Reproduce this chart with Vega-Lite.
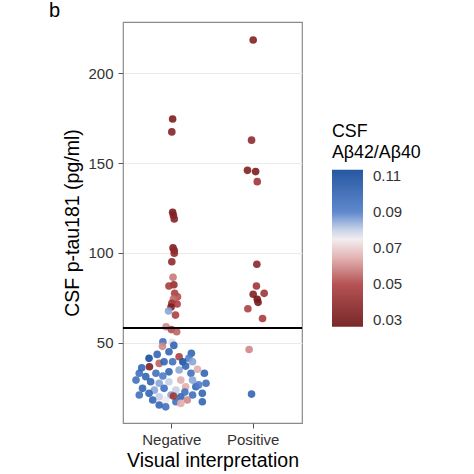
{
  "$schema": "https://vega.github.io/schema/vega-lite/v6.json",
  "autosize": {"type": "none"},
  "width": 179,
  "height": 401,
  "padding": {"left": 123, "top": 22, "right": 172, "bottom": 51},
  "background": "white",
  "title": {"text": "b", "anchor": "start", "frame": "group", "dx": -74, "offset": 1, "fontSize": 20, "fontWeight": "normal", "font": "Liberation Sans", "color": "#000"},
  "config": {
    "font": "Liberation Sans",
    "view": {"stroke": "#8a8a8a", "strokeWidth": 1.2},
    "axis": {"domain": false, "tickColor": "#555", "tickSize": 5, "labelColor": "#333", "labelFontSize": 15, "titleFontSize": 19.5, "titleFontWeight": "normal", "titleColor": "#000", "gridColor": "#ebebeb", "gridWidth": 1.1}
  },
  "data": {"values": [
    {"group": "Positive", "ptau": 218.6, "ratio": 0.035, "jit": 0.0},
    {"group": "Positive", "ptau": 162.8, "ratio": 0.04, "jit": -0.02},
    {"group": "Positive", "ptau": 146.0, "ratio": 0.035, "jit": -0.07},
    {"group": "Positive", "ptau": 145.3, "ratio": 0.033, "jit": 0.03},
    {"group": "Positive", "ptau": 139.7, "ratio": 0.045, "jit": 0.05},
    {"group": "Positive", "ptau": 93.7, "ratio": 0.038, "jit": 0.045},
    {"group": "Positive", "ptau": 81.6, "ratio": 0.045, "jit": 0.04},
    {"group": "Positive", "ptau": 77.5, "ratio": 0.045, "jit": 0.135},
    {"group": "Positive", "ptau": 77.0, "ratio": 0.035, "jit": 0.0},
    {"group": "Positive", "ptau": 74.2, "ratio": 0.03, "jit": 0.05},
    {"group": "Positive", "ptau": 72.5, "ratio": 0.032, "jit": 0.06},
    {"group": "Positive", "ptau": 68.9, "ratio": 0.05, "jit": -0.065},
    {"group": "Positive", "ptau": 63.5, "ratio": 0.048, "jit": 0.115},
    {"group": "Positive", "ptau": 46.2, "ratio": 0.06, "jit": -0.05},
    {"group": "Positive", "ptau": 21.4, "ratio": 0.1, "jit": -0.02},
    {"group": "Negative", "ptau": 174.6, "ratio": 0.033, "jit": 0.01},
    {"group": "Negative", "ptau": 167.4, "ratio": 0.036, "jit": 0.0},
    {"group": "Negative", "ptau": 122.6, "ratio": 0.032, "jit": 0.01},
    {"group": "Negative", "ptau": 120.8, "ratio": 0.035, "jit": 0.02},
    {"group": "Negative", "ptau": 118.9, "ratio": 0.037, "jit": 0.03},
    {"group": "Negative", "ptau": 102.8, "ratio": 0.034, "jit": 0.015},
    {"group": "Negative", "ptau": 101.3, "ratio": 0.038, "jit": 0.03},
    {"group": "Negative", "ptau": 99.8, "ratio": 0.04, "jit": 0.03},
    {"group": "Negative", "ptau": 95.1, "ratio": 0.04, "jit": 0.0},
    {"group": "Negative", "ptau": 86.4, "ratio": 0.058, "jit": 0.015},
    {"group": "Negative", "ptau": 82.3, "ratio": 0.042, "jit": 0.025},
    {"group": "Negative", "ptau": 81.6, "ratio": 0.048, "jit": -0.035},
    {"group": "Negative", "ptau": 77.5, "ratio": 0.05, "jit": 0.035},
    {"group": "Negative", "ptau": 75.6, "ratio": 0.052, "jit": 0.07},
    {"group": "Negative", "ptau": 74.3, "ratio": 0.056, "jit": 0.02},
    {"group": "Negative", "ptau": 72.0, "ratio": 0.045, "jit": 0.0},
    {"group": "Negative", "ptau": 71.6, "ratio": 0.05, "jit": 0.065},
    {"group": "Negative", "ptau": 69.9, "ratio": 0.033, "jit": -0.01},
    {"group": "Negative", "ptau": 67.7, "ratio": 0.085, "jit": -0.04},
    {"group": "Negative", "ptau": 65.4, "ratio": 0.05, "jit": 0.045},
    {"group": "Negative", "ptau": 58.9, "ratio": 0.06, "jit": -0.07},
    {"group": "Negative", "ptau": 57.3, "ratio": 0.052, "jit": -0.005},
    {"group": "Negative", "ptau": 56.1, "ratio": 0.055, "jit": 0.06},
    {"group": "Negative", "ptau": 50.5, "ratio": 0.095, "jit": -0.11},
    {"group": "Negative", "ptau": 50.2, "ratio": 0.078, "jit": 0.005},
    {"group": "Negative", "ptau": 48.0, "ratio": 0.06, "jit": -0.115},
    {"group": "Negative", "ptau": 48.5, "ratio": 0.1, "jit": 0.025},
    {"group": "Negative", "ptau": 45.0, "ratio": 0.1, "jit": -0.035},
    {"group": "Negative", "ptau": 42.2, "ratio": 0.05, "jit": 0.09},
    {"group": "Negative", "ptau": 44.1, "ratio": 0.1, "jit": 0.24},
    {"group": "Negative", "ptau": 41.3, "ratio": 0.09, "jit": 0.21},
    {"group": "Negative", "ptau": 41.3, "ratio": 0.11, "jit": -0.28},
    {"group": "Negative", "ptau": 36.6, "ratio": 0.034, "jit": -0.275},
    {"group": "Negative", "ptau": 38.5, "ratio": 0.055, "jit": -0.155},
    {"group": "Negative", "ptau": 39.4, "ratio": 0.1, "jit": -0.095},
    {"group": "Negative", "ptau": 39.4, "ratio": 0.095, "jit": 0.01},
    {"group": "Negative", "ptau": 39.4, "ratio": 0.108, "jit": 0.135},
    {"group": "Negative", "ptau": 39.4, "ratio": 0.085, "jit": 0.255},
    {"group": "Negative", "ptau": 35.2, "ratio": 0.065, "jit": 0.315},
    {"group": "Negative", "ptau": 33.0, "ratio": 0.095, "jit": -0.4},
    {"group": "Negative", "ptau": 31.1, "ratio": 0.1, "jit": -0.32},
    {"group": "Negative", "ptau": 33.0, "ratio": 0.095, "jit": -0.195},
    {"group": "Negative", "ptau": 33.8, "ratio": 0.1, "jit": -0.035},
    {"group": "Negative", "ptau": 34.8, "ratio": 0.085, "jit": 0.09},
    {"group": "Negative", "ptau": 33.0, "ratio": 0.095, "jit": 0.235},
    {"group": "Negative", "ptau": 33.0, "ratio": 0.1, "jit": 0.4},
    {"group": "Negative", "ptau": 29.2, "ratio": 0.095, "jit": -0.44},
    {"group": "Negative", "ptau": 28.3, "ratio": 0.1, "jit": -0.26},
    {"group": "Negative", "ptau": 27.4, "ratio": 0.085, "jit": -0.155},
    {"group": "Negative", "ptau": 28.3, "ratio": 0.08, "jit": -0.035},
    {"group": "Negative", "ptau": 29.2, "ratio": 0.065, "jit": 0.11},
    {"group": "Negative", "ptau": 29.2, "ratio": 0.085, "jit": 0.255},
    {"group": "Negative", "ptau": 27.4, "ratio": 0.095, "jit": 0.42},
    {"group": "Negative", "ptau": 24.6, "ratio": 0.1, "jit": -0.36},
    {"group": "Negative", "ptau": 23.6, "ratio": 0.085, "jit": -0.215},
    {"group": "Negative", "ptau": 24.6, "ratio": 0.095, "jit": -0.095},
    {"group": "Negative", "ptau": 23.6, "ratio": 0.08, "jit": 0.05},
    {"group": "Negative", "ptau": 25.5, "ratio": 0.065, "jit": 0.17},
    {"group": "Negative", "ptau": 25.5, "ratio": 0.1, "jit": 0.295},
    {"group": "Negative", "ptau": 20.9, "ratio": 0.095, "jit": -0.4},
    {"group": "Negative", "ptau": 21.8, "ratio": 0.1, "jit": -0.28},
    {"group": "Negative", "ptau": 19.9, "ratio": 0.08, "jit": -0.155},
    {"group": "Negative", "ptau": 20.9, "ratio": 0.085, "jit": -0.01},
    {"group": "Negative", "ptau": 19.9, "ratio": 0.1, "jit": 0.11},
    {"group": "Negative", "ptau": 20.9, "ratio": 0.095, "jit": 0.255},
    {"group": "Negative", "ptau": 21.8, "ratio": 0.1, "jit": 0.375},
    {"group": "Negative", "ptau": 18.1, "ratio": 0.1, "jit": -0.235},
    {"group": "Negative", "ptau": 18.1, "ratio": 0.075, "jit": -0.075},
    {"group": "Negative", "ptau": 17.1, "ratio": 0.095, "jit": 0.05},
    {"group": "Negative", "ptau": 18.1, "ratio": 0.06, "jit": 0.19},
    {"group": "Negative", "ptau": 15.3, "ratio": 0.1, "jit": -0.155},
    {"group": "Negative", "ptau": 14.3, "ratio": 0.095, "jit": -0.075},
    {"group": "Negative", "ptau": 17.1, "ratio": 0.1, "jit": 0.375},
    {"group": "Negative", "ptau": 36.0, "ratio": 0.1, "jit": -0.37},
    {"group": "Negative", "ptau": 31.5, "ratio": 0.09, "jit": -0.11},
    {"group": "Negative", "ptau": 26.5, "ratio": 0.09, "jit": 0.33},
    {"group": "Negative", "ptau": 22.5, "ratio": 0.095, "jit": 0.16},
    {"group": "Negative", "ptau": 16.2, "ratio": 0.065, "jit": 0.11},
    {"group": "Negative", "ptau": 20.3, "ratio": 0.045, "jit": 0.02},
    {"group": "Negative", "ptau": 43.5, "ratio": 0.1, "jit": -0.18},
    {"group": "Negative", "ptau": 37.0, "ratio": 0.1, "jit": 0.17}
  ]},
  "layer": [
    {
      "mark": {"type": "circle", "size": 58, "opacity": 0.9},
      "encoding": {
        "x": {"field": "group", "type": "nominal", "sort": ["Negative", "Positive"],
              "scale": {"type": "band", "paddingInner": 0, "paddingOuter": 0.1},
              "axis": {"title": "Visual interpretation", "labelAngle": 0, "labelPadding": 4, "titlePadding": 4, "grid": false}},
        "xOffset": {"field": "jit", "type": "quantitative", "scale": {"domain": [-0.5, 0.5]}},
        "y": {"field": "ptau", "type": "quantitative",
              "scale": {"domain": [5.3, 228.6], "nice": false, "zero": false},
              "axis": {"title": "CSF p-tau181 (pg/ml)", "values": [50, 100, 150, 200], "labelPadding": 5, "titlePadding": 5, "grid": true}},
        "color": {"field": "ratio", "type": "quantitative",
                  "scale": {"domain": [0.0265, 0.05, 0.065, 0.076, 0.09, 0.1135], "range": ["#6a1012", "#ad3f41", "#e0adad", "#f3f1f3", "#4f7cc7", "#0d4597"], "interpolate": "rgb"},
                  "legend": {"title": ["CSF", "Aβ42/Aβ40"], "orient": "none", "legendX": 209, "legendY": 101, "padding": 0,
                             "titleFontSize": 17.8, "titleFontWeight": "normal", "titleColor": "#000", "titleLineHeight": 21, "titlePadding": 8,
                             "gradientLength": 157, "gradientThickness": 31, "gradientStrokeWidth": 0,
                             "values": [0.03, 0.05, 0.07, 0.09, 0.11], "labelFontSize": 15, "labelColor": "#333", "labelOffset": 10,
                             "direction": "vertical"}}
      }
    },
    {
      "mark": {"type": "rule", "color": "#000", "strokeWidth": 1.5},
      "encoding": {"y": {"datum": 58}}
    }
  ]
}
